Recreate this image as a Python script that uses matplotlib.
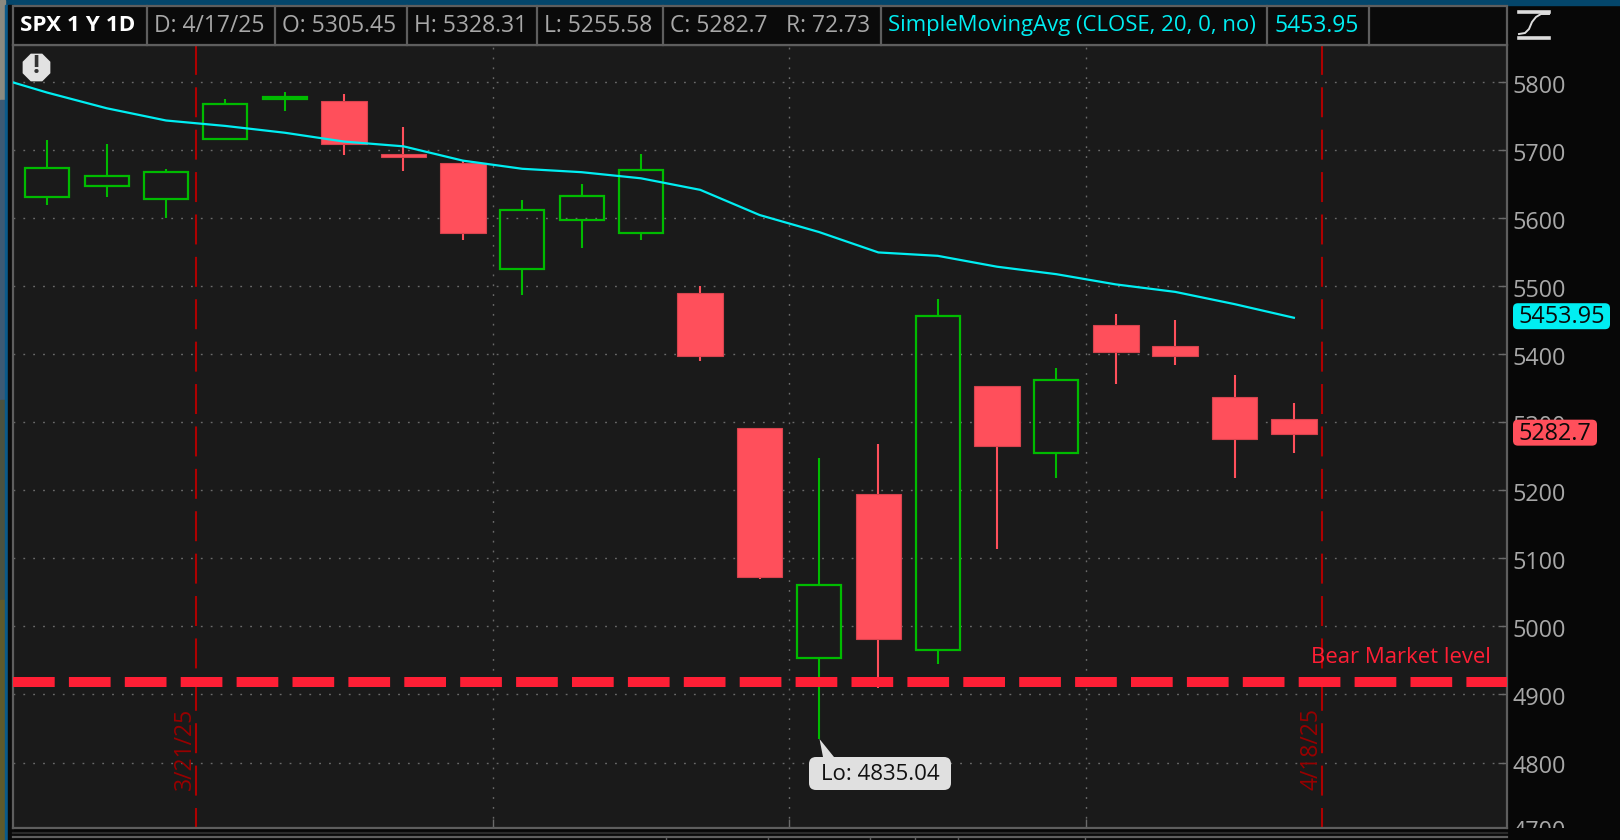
import matplotlib
matplotlib.use('Agg')
import matplotlib.pyplot as plt
import matplotlib.patches as mpatches
from matplotlib.transforms import Bbox, ScaledTranslation

W, H = 1620, 840

# candles (last one is in the header)
opens = [5632, 5647, 5628, 5717, 5775, 5772, 5695, 5681, 5526, 5597, 5579, 5491,
         5292, 4953, 5195, 4965, 5354, 5255, 5443, 5412, 5337, 5305.45]
highs = [5715, 5709, 5672, 5775, 5786, 5783, 5734, 5684, 5627, 5651, 5695, 5500,
         5292, 5248, 5269, 5481, 5354, 5380, 5460, 5451, 5370, 5328.31]
lows = [5620, 5632, 5601, 5717, 5758, 5693, 5669, 5569, 5488, 5557, 5569, 5391,
        5070, 4835.04, 4910, 4945, 5114, 5219, 5357, 5385, 5219, 5255.58]
closes = [5674, 5662, 5668, 5768, 5779, 5710, 5690, 5578, 5612, 5633, 5671, 5397,
          5073, 5061, 4981, 5457, 5266, 5362, 5404, 5397, 5275, 5282.7]

# first value belongs to the bar left of the window, the line runs off the edge
sma = [5811, 5785, 5762, 5744, 5736, 5726, 5713, 5706, 5685, 5673, 5668, 5659,
       5642, 5605, 5580, 5550, 5545, 5529, 5518, 5503, 5492, 5474, 5453.95]

y_ticks = [4800, 4900, 5000, 5100, 5200, 5300, 5400, 5500, 5600, 5700, 5800]
cut_tick = 4700
bear_level = 4918
date_lines = [2.51, 21.48]
date_labels = ['3/21/25', '4/18/25']
v_grid = [7.5, 12.5, 17.5]
header_labels = ['SPX 1 Y 1D', 'D: 4/17/25', 'O: 5305.45', 'H: 5328.31', 'L: 5255.58',
                 'C: 5282.7', 'R: 72.73', 'SimpleMovingAvg (CLOSE, 20, 0, no)', '5453.95']

GREEN = '#00bb00'
RED = '#ff4f5b'
CYAN = '#00eef2'
BEAR = '#ff1f35'
DARK_RED = '#ad0000'
GREY = '#a8a8a8'
EDGE = '#5e5e5e'

plt.rcParams['font.family'] = ['Open Sans', 'DejaVu Sans']

fig = plt.figure(figsize=(W / 100, H / 100), dpi=100, facecolor='#070707')

# overlay in pixel coordinates for the window chrome
ui = fig.add_axes([0, 0, 1, 1], zorder=0)
ui.set_xlim(0, W)
ui.set_ylim(H, 0)
ui.axis('off')

# chart area
left, right, top, bottom = 13.4, 1507, 45, 828
ax = fig.add_axes([left / W, 1 - bottom / H, (right - left) / W, (bottom - top) / H], zorder=1)
ax.set_facecolor('#1a1a1a')
for s in ax.spines.values():
    s.set_color(EDGE)
    s.set_linewidth(1.6)

ax.yaxis.tick_right()
ax.set_yticks(y_ticks)
ax.set_xticks(v_grid)
ax.set_xlim(-0.571, 24.59)
ax.set_ylim(4703.7, 5855)
ax.tick_params(axis='y', direction='in', length=6.5, width=1, color='#6a6a6a',
               labelcolor=GREY, labelsize=16.8, pad=4)
ax.tick_params(axis='x', direction='in', length=6.5, width=1, color='#6a6a6a', labelbottom=False)
ax.grid(True, color='#6a6a6a', linewidth=1, linestyle=(0, (1.3, 5.8)), zorder=1)
ax.set_axisbelow(True)

# labels sit a little under their grid lines
nudge = ScaledTranslation(0, -1.5 / 100, fig.dpi_scale_trans)
for lab in ax.get_yticklabels():
    lab.set_transform(lab.get_transform() + nudge)

# date marker lines
for x, label in zip(date_lines, date_labels):
    ax.axvline(x, color=DARK_RED, linewidth=1.5, linestyle=(4.8, (14.4, 5.95)), zorder=2)
    ax.annotate(label, (x, 4703.7), xytext=(-8, 27), textcoords='offset points',
                rotation=90, ha='center', va='bottom', color='#980000', fontsize=16.5, zorder=2)

# candles
for i in range(len(opens)):
    o, h, l, c = opens[i], highs[i], lows[i], closes[i]
    body_top, body_bot = max(o, c), min(o, c)
    if c >= o:
        ax.vlines(i, body_top, h, color=GREEN, linewidth=1.5, zorder=3)
        ax.vlines(i, l, body_bot, color=GREEN, linewidth=1.5, zorder=3)
        thin = body_top - body_bot < 6
        ax.bar(i, body_top - body_bot, 0.74, bottom=body_bot, facecolor=GREEN if thin else 'none',
               edgecolor=GREEN, linewidth=1.6, zorder=3)
    else:
        ax.vlines(i, l, h, color=RED, linewidth=1.5, zorder=3)
        ax.bar(i, body_top - body_bot, 0.77, bottom=body_bot, facecolor=RED,
               edgecolor='#d8434e', linewidth=0.8, zorder=3)

ax.plot(range(-1, len(sma) - 1), sma, color=CYAN, linewidth=1.6, zorder=4)
ax.axhline(bear_level, color=BEAR, linewidth=7.2, linestyle=(0, (4.17, 1.42)), zorder=5)

ui_top = fig.add_axes([0, 0, 1, 1], zorder=2)
ui_top.set_xlim(0, W)
ui_top.set_ylim(H, 0)
ui_top.axis('off')
ui_top.patch.set_alpha(0)

ui_top.text(1491, 657.5, 'Bear Market level', color=BEAR, fontsize=15.9, ha='right', va='center')

# the lowest label is cut by the bottom of the chart
cut_label = ui_top.text(right + 5.5, bottom + 4, str(cut_tick), color=GREY, fontsize=16.8, va='center')
cut_label.set_clip_box(Bbox([[right, H - bottom], [W, H - top]]))
cut_label.set_clip_on(True)

# window edges: desktop strip on the left, title strip on top
ui.add_patch(mpatches.Rectangle((0, 0), W, 5, color='#04466b'))
ui.add_patch(mpatches.Rectangle((0, 0), 5, 100, color='#8a8a80'))
ui.add_patch(mpatches.Rectangle((0, 100), 5, 300, color='#3c5a74'))
ui.add_patch(mpatches.Rectangle((0, 400), 5, 200, color='#4a5240'))
ui.add_patch(mpatches.Rectangle((0, 600), 5, 240, color='#5f5a2c'))
ui.add_patch(mpatches.Rectangle((5, 5), 3, H, color='#0a5a8a'))
ui.add_patch(mpatches.Rectangle((8, 5), 5.4, H, color='#0a0a0a'))

# header row
ui_top.add_patch(mpatches.Rectangle((13.4, 6), right - 13.4, 38.5, facecolor='#0a0a0a',
                                    edgecolor=EDGE, linewidth=1.6))
for x in [147, 274.6, 407, 537, 663, 881, 1267, 1369]:
    ui_top.plot([x, x], [6, 44.5], color=EDGE, linewidth=1.6)
header_x = [20.5, 154, 282, 414, 544.5, 670, 786, 888.4, 1274.4]
for i, (x, label) in enumerate(zip(header_x, header_labels)):
    if i == 0:
        ui_top.text(x, 25.5, label, color='white', fontsize=16.2, fontweight='bold', va='center')
    else:
        size = 15.9 if i == 7 else 16.5
        ui_top.text(x, 25.5, label, color=CYAN if i >= 7 else GREY, fontsize=size, va='center')

# bottom rows
ui_top.plot([13, right], [833, 833], color='#2a2a2a', linewidth=1.6)
ui_top.plot([13, right], [837, 837], color=EDGE, linewidth=1.6)
for x in [666, 768, 870, 915, 958, 1085]:
    ui_top.plot([x, x], [837, 840], color=EDGE, linewidth=1)

# warning icon
ui_top.add_patch(mpatches.RegularPolygon((36.5, 67.5), 8, radius=15, orientation=0.3927, facecolor='#e2e2e2'))
ui_top.text(36.5, 66.5, '!', color='#333333', fontsize=18, fontweight='bold', ha='center', va='center')

# study icon in the right strip
ui_top.plot([1519, 1549], [12, 12], color='#dddddd', linewidth=2.6)
ui_top.plot([1519, 1549], [38, 38], color='#dddddd', linewidth=2.6)
ui_top.plot([1519, 1525, 1529, 1532, 1536, 1541, 1549], [34, 33, 29, 22, 17, 14, 14],
            color='#dddddd', linewidth=1.4)

# price tags
tag_x = 1515.5
for value, text, color, width in [(sma[-1], '5453.95', CYAN, 92), (closes[-1], '5282.7', RED, 79)]:
    y_px = top + (5855 - value) * 0.68 - 1.5
    ui_top.add_patch(mpatches.FancyBboxPatch((tag_x, y_px - 10.5), width, 21,
                                             boxstyle='round,pad=2.5,rounding_size=5',
                                             facecolor=color, edgecolor='none'))
    ui_top.text(tag_x + 3, y_px + 1, text, color='#0a0a0a', fontsize=16.8, va='center')

# low callout
ui_top.add_patch(mpatches.Polygon([(819.5, 739), (823, 757), (834, 757)], facecolor='#e0e0e0'))
ui_top.add_patch(mpatches.FancyBboxPatch((812, 760), 136, 27, boxstyle='round,pad=3,rounding_size=7',
                                         facecolor='#e0e0e0', edgecolor='none'))
ui_top.text(880, 774, 'Lo: %.2f' % min(lows), color='#111111', fontsize=16, ha='center', va='center')

fig.savefig('out.png', dpi=100, facecolor=fig.get_facecolor())
